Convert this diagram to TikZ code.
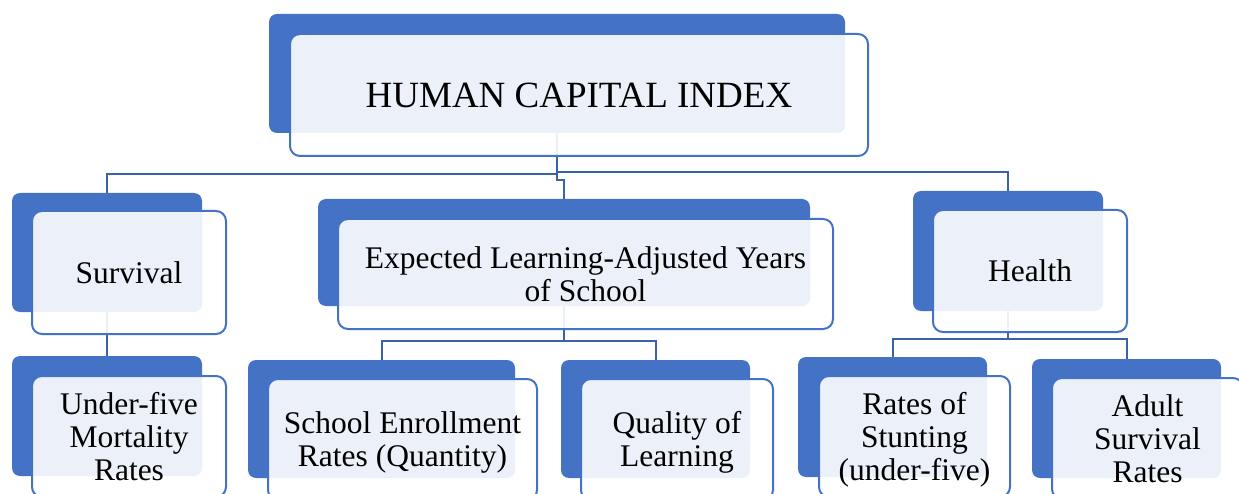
\documentclass[tikz,border=0pt]{standalone}
\usepackage{fontspec}
\setmainfont{Liberation Serif}
\definecolor{hcblue}{HTML}{4472C4}
\definecolor{hcline}{HTML}{3A62AC}
\tikzset{
  backbox/.style={fill=hcblue, draw=none, rounded corners=8pt, inner sep=0pt},
  frontbox/.style={fill=white, fill opacity=0.9, text opacity=1, draw=hcblue, line width=2pt,
    rounded corners=10pt, inner sep=0pt, align=center, font=\fontsize{31.5}{33}\selectfont},
  boxtext/.style={inner sep=0pt, align=center, font=\fontsize{31.5}{33}\selectfont},
  conn/.style={draw=hcline, line width=2pt},
}
\begin{document}
\begin{tikzpicture}[x=1pt,y=-1pt]
\useasboundingbox (0,0) rectangle (1239,494);
% back boxes
\node[backbox, minimum width=576pt, minimum height=119pt] (b-hci) at (557,73.5) {};
\node[backbox, minimum width=190pt, minimum height=119pt] (b-surv) at (107,252.5) {};
\node[backbox, minimum width=492pt, minimum height=107pt] (b-elays) at (564,252.5) {};
\node[backbox, minimum width=190pt, minimum height=120pt] (b-health) at (1008,251) {};
\node[backbox, minimum width=190pt, minimum height=120pt] (b-under) at (107,416) {};
\node[backbox, minimum width=267pt, minimum height=118pt] (b-school) at (381.5,419) {};
\node[backbox, minimum width=189pt, minimum height=118pt] (b-quality) at (655.5,419) {};
\node[backbox, minimum width=189pt, minimum height=120pt] (b-stunt) at (892.5,417) {};
\node[backbox, minimum width=189pt, minimum height=119pt] (b-adult) at (1126.5,418.5) {};
% junctions
\coordinate (j1) at (557,174);
\coordinate (j2) at (557,172);
\coordinate (j3) at (557,180);
\coordinate (j4) at (564,180);
\coordinate (j5) at (564,341);
\coordinate (j6) at (1008,339);
% connectors
\draw[conn] (b-hci.south) -- (j1) -| (b-surv.north);
\draw[conn] (j2) -| (b-health.north);
\draw[conn] (b-hci.south) -- (j3) -- (j4) -- (b-elays.north);
\draw[conn] (b-surv.south) -- (b-under.north);
\draw[conn] (b-elays.south) -- (j5);
\draw[conn] (j5) -| (b-school.north);
\draw[conn] (j5) -| (b-quality.north);
\draw[conn] (b-health.south) -- (j6);
\draw[conn] (j6) -| (b-stunt.north);
\draw[conn] (j6) -| (b-adult.north);
% front boxes
\node[frontbox, minimum width=578pt, minimum height=122pt, font=\fontsize{37}{40}\selectfont] (hci) at (579,95) {HUMAN CAPITAL INDEX};
\node[frontbox, minimum width=194pt, minimum height=123pt] (surv) at (129,272.5) {Survival};
\node[frontbox, minimum width=495pt, minimum height=110pt] (elays) at (585.5,274) {Expected Learning-Adjusted Years\\of School};
\node[frontbox, minimum width=194pt, minimum height=122pt] (health) at (1030,271) {Health};
\node[frontbox, minimum width=194pt, minimum height=121pt] (under) at (129,436.5) {Under-five\\Mortality\\Rates};
\node[frontbox, minimum width=269pt, minimum height=121pt] (school) at (402.5,439.5) {};
\node[boxtext] (school-t) at ([yshift=-3pt]school.center) {School Enrollment\\Rates (Quantity)};
\node[frontbox, minimum width=192pt, minimum height=121pt] (quality) at (677,439.5) {};
\node[boxtext] (quality-t) at ([yshift=-3pt]quality.center) {Quality of\\Learning};
\node[frontbox, minimum width=191pt, minimum height=121pt] (stunt) at (914.5,436.5) {};
\node[boxtext] (stunt-t) at ([yshift=-3pt]stunt.center) {Rates of\\Stunting\\(under-five)};
\node[frontbox, minimum width=191pt, minimum height=121pt] (adult) at (1147.5,438.5) {Adult\\Survival\\Rates};
\end{tikzpicture}
\end{document}
